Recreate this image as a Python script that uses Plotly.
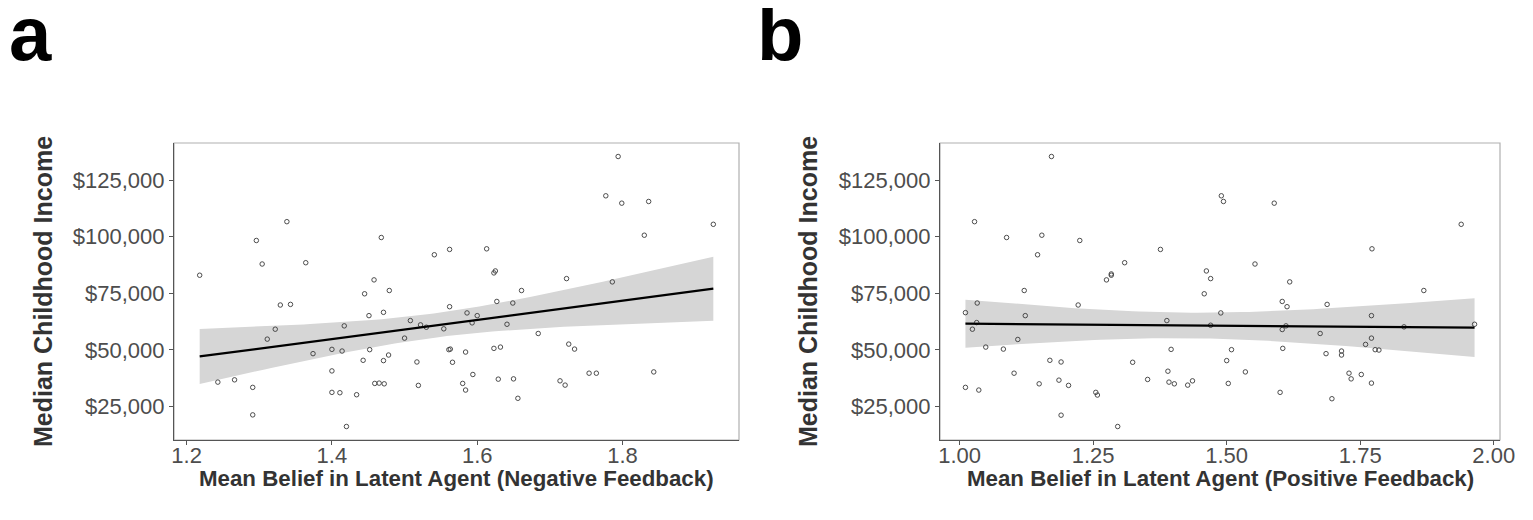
import numpy as np
import plotly.graph_objects as go

# Panel a: Negative feedback
x_neg = [1.218, 1.296, 1.304, 1.338, 1.364, 1.445, 1.458, 1.468, 1.479, 1.541, 1.562,
         1.613, 1.623, 1.625, 1.661, 1.723, 1.786, 1.777, 1.794, 1.799, 1.836, 1.830, 1.925,
         1.329, 1.343, 1.322, 1.311, 1.243, 1.266, 1.291, 1.291, 1.374, 1.400, 1.414, 1.417,
         1.400, 1.400, 1.411, 1.434, 1.420, 1.451, 1.471, 1.452, 1.443, 1.471, 1.478, 1.459,
         1.465, 1.472, 1.500, 1.508, 1.522, 1.530, 1.517, 1.519, 1.554, 1.562, 1.561, 1.563,
         1.566,
         1.627, 1.649, 1.586, 1.600, 1.593, 1.641, 1.684, 1.584, 1.623, 1.632, 1.726, 1.734,
         1.594, 1.580, 1.584, 1.629, 1.650, 1.656, 1.714, 1.721, 1.754, 1.764, 1.843]
y_neg = [82980, 98330, 87940, 106650, 88510, 74780, 80920, 99650, 76230, 92030, 94380,
         94650, 84000, 84870, 76230, 81490, 80040, 118070, 135440, 114820, 115570, 100660, 105480,
         69820, 70090, 59130, 54740, 35750, 36760, 33420, 21270, 48330, 50220, 49480, 60610,
         40700, 31220, 31060, 30180, 16140, 65130, 66580, 50090, 45390, 45260, 47720, 35180,
         35310, 35000, 55180, 62940, 61050, 60000, 44650, 34300, 59300, 69080, 50090, 50350,
         44520,
         71400, 70700, 66320, 65130, 61930, 61320, 57240, 49030, 50660, 51230, 52550, 50350,
         39120, 35180, 32240, 37060, 37190, 28600, 36320, 34430, 39690, 39690, 40260]

# Panel b: Positive feedback
x_pos = [1.172, 1.028, 1.088, 1.154, 1.225, 1.146, 1.121, 1.376, 1.309, 1.275, 1.284, 1.284,
         1.462, 1.470, 1.458,
         1.490, 1.494, 1.589, 1.939, 1.772, 1.553, 1.618, 1.869,
         1.011, 1.033, 1.032, 1.024, 1.123, 1.222, 1.109, 1.049, 1.082, 1.169, 1.190, 1.102,
         1.011, 1.036, 1.149, 1.186, 1.204, 1.190, 1.255, 1.258, 1.296, 1.324, 1.352, 1.388,
         1.396, 1.390, 1.392, 1.402, 1.427, 1.436, 1.470,
         1.489, 1.604, 1.613, 1.688, 1.611, 1.604, 1.675, 1.771, 1.832, 1.964, 1.771, 1.760,
         1.778, 1.785, 1.509, 1.500, 1.605, 1.686, 1.715, 1.715, 1.535, 1.503, 1.729, 1.733,
         1.752, 1.771, 1.600, 1.697]
y_pos = [135440, 106650, 99650, 100660, 98330, 92030, 76230, 94380, 88510, 80920, 83550, 82980,
         84870, 81490, 74780,
         118070, 115570, 114820, 105480, 94650, 87940, 80040, 76230,
         66450, 70700, 62060, 59130, 65130, 69820, 54600, 51230, 50350, 45390, 44650, 39690,
         33420, 32240, 35000, 36620, 34300, 21140, 31220, 30040, 16140, 44520, 36930, 62940,
         50220, 40570, 35750, 35000, 34430, 36320, 60880,
         66320, 71400, 69080, 70090, 60610, 58990, 57240, 65130, 60170, 61320, 55180, 52410,
         50090, 49920, 50090, 45260, 50660, 48330, 49480, 47720, 40260, 35180, 39690, 37190,
         39120, 35310, 31220, 28410]

y_tick_vals = [25000, 50000, 75000, 100000, 125000]
y_tick_text = ["$25,000", "$50,000", "$75,000", "$100,000", "$125,000"]
xa_tick_vals = [1.2, 1.4, 1.6, 1.8]
xa_tick_text = ["1.2", "1.4", "1.6", "1.8"]
xb_tick_vals = [1.0, 1.25, 1.5, 1.75, 2.0]
xb_tick_text = ["1.00", "1.25", "1.50", "1.75", "2.00"]

x_title_a = "Mean Belief in Latent Agent (Negative Feedback)"
x_title_b = "Mean Belief in Latent Agent (Positive Feedback)"
y_title = "Median Childhood Income"


def lm_fit(x, y, n_out=80, tq=1.99):
    x = np.asarray(x, float)
    y = np.asarray(y, float)
    n = len(x)
    b1, b0 = np.polyfit(x, y, 1)
    resid = y - (b0 + b1 * x)
    s = np.sqrt(np.sum(resid ** 2) / (n - 2))
    sxx = np.sum((x - x.mean()) ** 2)
    xs = np.linspace(x.min(), x.max(), n_out)
    fit = b0 + b1 * xs
    se = s * np.sqrt(1.0 / n + (xs - x.mean()) ** 2 / sxx)
    return xs, fit, fit - tq * se, fit + tq * se


def expand(vals, mult=0.05):
    lo, hi = min(vals), max(vals)
    d = (hi - lo) * mult
    return [lo - d, hi + d]


# figure size inside the page (8px body margin)
W, H = 1517, 504
PX0, PW = 8.0, 1517.0
PY0, PH = 8.0, 504.0


def px(x):
    return (x - PX0) / PW


def py(y):
    return 1 - (y - PY0) / PH


fig = go.Figure()

yr = expand(y_neg + y_pos)

for xd, yd, xa, ya in [(x_neg, y_neg, "x", "y"), (x_pos, y_pos, "x2", "y2")]:
    xs, fit, lo, hi = lm_fit(xd, yd)
    fig.add_trace(go.Scatter(
        x=np.concatenate([xs, xs[::-1]]), y=np.concatenate([hi, lo[::-1]]),
        fill="toself", fillcolor="#d6d6d6", line=dict(width=0), mode="lines",
        hoverinfo="skip", showlegend=False, xaxis=xa, yaxis=ya))
    fig.add_trace(go.Scatter(
        x=xd, y=yd, mode="markers",
        marker=dict(symbol="circle-open", size=4.5, color="#3a3a3a", line=dict(width=0.9)),
        showlegend=False, xaxis=xa, yaxis=ya))
    fig.add_trace(go.Scatter(
        x=xs, y=fit, mode="lines", line=dict(color="black", width=2.2),
        showlegend=False, xaxis=xa, yaxis=ya))

FONT = "Liberation Sans, Arial, sans-serif"
tick_font = dict(family=FONT, size=22, color="#4d4d4d")

dom_a = [px(174), px(739)]
dom_b = [px(940), px(1500)]
dom_y = [py(440), py(143)]

axis_common = dict(showgrid=False, zeroline=False, showline=True, linecolor="#555555",
                   linewidth=1.2, ticks="outside", ticklen=4, tickcolor="#555555",
                   tickwidth=1, tickfont=tick_font, mirror=False, automargin=False)

fig.update_layout(
    width=W, height=H,
    margin=dict(l=0, r=0, t=0, b=0, autoexpand=False),
    paper_bgcolor="white", plot_bgcolor="white",
    xaxis=dict(domain=dom_a, anchor="y", range=expand(x_neg), tickvals=xa_tick_vals,
               ticktext=xa_tick_text, ticklabelstandoff=-9, **axis_common),
    yaxis=dict(domain=dom_y, anchor="x", range=yr, tickvals=y_tick_vals,
               ticktext=y_tick_text, **axis_common),
    xaxis2=dict(domain=dom_b, anchor="y2", range=expand(x_pos), tickvals=xb_tick_vals,
                ticktext=xb_tick_text, ticklabelstandoff=-9, **axis_common),
    yaxis2=dict(domain=dom_y, anchor="x2", range=yr, tickvals=y_tick_vals,
                ticktext=y_tick_text, **axis_common),
)

# light panel borders
for xr, yrf in [("x domain", "y domain"), ("x2 domain", "y2 domain")]:
    fig.add_shape(type="rect", xref=xr, yref=yrf, x0=0, x1=1, y0=0, y1=1,
                  line=dict(color="#b0b0b0", width=1.2), layer="below")

# axis titles
xt_font = dict(family=FONT, size=22.3, color="#333333")
yt_font = dict(family=FONT, size=25, color="#333333")
fig.add_annotation(text="<b>%s</b>" % x_title_a, xref="paper", yref="paper",
                   x=(dom_a[0] + dom_a[1]) / 2, y=py(478), showarrow=False,
                   font=xt_font, xanchor="center", yanchor="middle")
fig.add_annotation(text="<b>%s</b>" % x_title_b, xref="paper", yref="paper",
                   x=(dom_b[0] + dom_b[1]) / 2, y=py(478), showarrow=False,
                   font=xt_font, xanchor="center", yanchor="middle")
for xc in [43, 808]:
    fig.add_annotation(text="<b>%s</b>" % y_title, xref="paper", yref="paper",
                       x=px(xc), y=py(292), showarrow=False, textangle=-90,
                       font=yt_font, xanchor="center", yanchor="middle")

# panel letters
for lab, xl in [("a", 7), ("b", 755)]:
    fig.add_annotation(text="<b>%s</b>" % lab, xref="paper", yref="paper",
                       x=px(xl), y=py(33), showarrow=False, xanchor="left",
                       yanchor="middle",
                       font=dict(family=FONT, size=76, color="black"))

fig.write_html("out.html")
